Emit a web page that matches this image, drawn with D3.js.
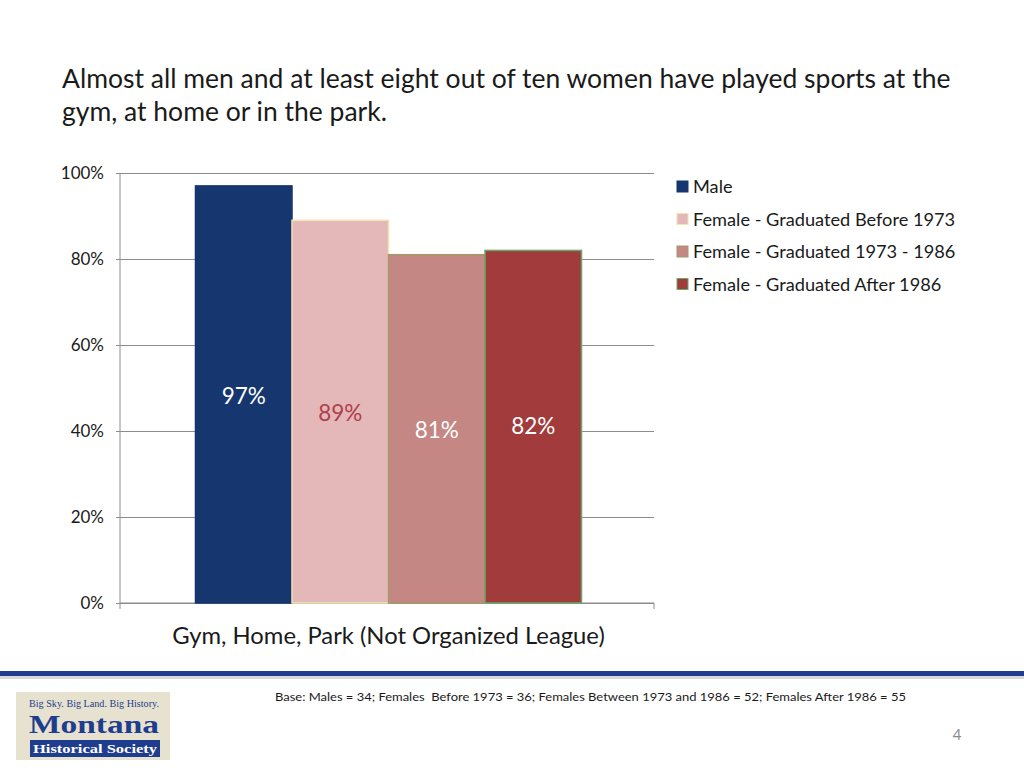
<!DOCTYPE html>
<html><head><meta charset="utf-8">
<script src="https://cdn.jsdelivr.net/npm/d3@7"></script>
<style>body{margin:0;background:#fff;} svg{display:block;font-family:Lato,"Open Sans",sans-serif;} text{white-space:pre;}</style>
</head><body>
<svg id="c" width="1024" height="768"></svg>
<script>
const titleLines = ["Almost all men and at least eight out of ten women have played sports at the", "gym, at home or in the park."];
const category = "Gym, Home, Park (Not Organized League)";
const seriesNames = ["Male", "Female - Graduated Before 1973", "Female - Graduated 1973 - 1986", "Female - Graduated After 1986"];
const seriesValues = [0.97, 0.89, 0.81, 0.82];
const labelTexts = ["97%", "89%", "81%", "82%"];
const labelValues = [0.48, 0.44, 0.40, 0.41];
const fills = ["#15366e", "#e4b8b8", "#c48784", "#a23b3b"];
const strokes = ["#15366e", "#f2e3b0", "#a29a6a", "#6aa86a"];
const labelColors = ["#ffffff", "#b0404e", "#ffffff", "#ffffff"];
const yTicks = [0, 0.2, 0.4, 0.6, 0.8, 1.0];
const footnote = "Base: Males = 34; Females  Before 1973 = 36; Females Between 1973 and 1986 = 52; Females After 1986 = 55";

const svg = d3.select("#c");
const x0 = 120, x1 = 654, yTop = 173, yBot = 603;
const y = d3.scaleLinear().domain([0, 1]).range([yBot, yTop]);
const xc = d3.scaleBand().domain([category]).range([x0 + 1.5, x1 + 1.5]).paddingInner(0).paddingOuter(0.1917);
const xs = d3.scaleBand().domain(seriesNames).range([xc(category), xc(category) + xc.bandwidth()]);

// title
svg.append("g").selectAll("text").data(titleLines).join("text")
  .attr("x", 62).attr("y", (d, i) => 88 + i * 33)
  .attr("font-size", 26.5).attr("fill", "#1a1a1a").text(d => d);

// gridlines
svg.append("g").selectAll("line").data(yTicks).join("line")
  .attr("x1", x0).attr("x2", x1).attr("y1", d => y(d)).attr("y2", d => y(d))
  .attr("stroke", "#8c8c8c").attr("stroke-width", 1).attr("shape-rendering", "crispEdges");

// y axis
const ya = svg.append("g").attr("transform", `translate(${x0},0)`)
  .call(d3.axisLeft(y).tickValues(yTicks).tickFormat(d3.format(".0%")).tickSize(4).tickPadding(12));
ya.select(".domain").attr("stroke", "#8c8c8c").attr("d", `M0,${yTop}V${yBot+6}`);
ya.selectAll(".tick line").attr("stroke", "#8c8c8c");
ya.selectAll(".tick text").attr("font-size", 17).attr("fill", "#1a1a1a").attr("font-family", "Lato,sans-serif");

// x axis
const xa = svg.append("g").attr("transform", `translate(0,${yBot})`)
  .call(d3.axisBottom(xc).tickSize(0).tickFormat(() => ""));
xa.select(".domain").attr("stroke", "#8c8c8c").attr("d", `M${x0},0H${x1}V6`);
svg.append("text").attr("x", xc(category) + xc.bandwidth() / 2).attr("y", 644)
  .attr("text-anchor", "middle").attr("font-size", 23.8).attr("fill", "#1a1a1a").text(category);

// bars
svg.append("g").selectAll("rect").data(seriesNames).join("rect")
  .attr("x", d => xs(d)).attr("width", xs.bandwidth())
  .attr("y", (d, i) => y(seriesValues[i])).attr("height", (d, i) => yBot - y(seriesValues[i]))
  .attr("fill", (d, i) => fills[i]).attr("stroke", (d, i) => strokes[i]).attr("stroke-width", 1.5);

// labels
svg.append("g").selectAll("text").data(seriesNames).join("text")
  .attr("x", d => xs(d) + xs.bandwidth() / 2).attr("y", (d, i) => y(labelValues[i]) + 7)
  .attr("text-anchor", "middle").attr("font-size", 22.5).attr("fill", (d, i) => labelColors[i])
  .text((d, i) => labelTexts[i]);

// legend
const lg = svg.append("g").selectAll("g").data(seriesNames).join("g")
  .attr("transform", (d, i) => `translate(677,${187 + i * 32.5})`);
lg.append("rect").attr("x", 0).attr("y", -6).attr("width", 11).attr("height", 11)
  .attr("fill", (d, i) => fills[i]).attr("stroke", (d, i) => strokes[i]).attr("stroke-width", 1);
lg.append("text").attr("x", 16).attr("y", 6).attr("font-size", 18.2).attr("fill", "#1a1a1a").text(d => d);

// footer line
svg.append("rect").attr("x", 0).attr("y", 675).attr("width", 1024).attr("height", 4).attr("fill", "#d8d8d8");
svg.append("rect").attr("x", 0).attr("y", 671).attr("width", 1024).attr("height", 5).attr("fill", "#1f3d8e");
svg.append("text").attr("x", 275).attr("y", 701).attr("font-size", 12).attr("fill", "#1a1a1a")
  .attr("textLength", 631).attr("lengthAdjust", "spacingAndGlyphs").text(footnote);
svg.append("text").attr("x", 957).attr("y", 740).attr("text-anchor", "middle").attr("font-size", 15).attr("fill", "#8c8c8c").text("4");

// logo
const logo = svg.append("g").attr("transform", "translate(16,692)");
logo.append("rect").attr("width", 154).attr("height", 68).attr("fill", "#e6e2cf");
logo.append("text").attr("x", 78).attr("y", 15).attr("text-anchor", "middle").attr("font-family", "Liberation Serif,serif")
  .attr("font-size", 10).attr("fill", "#1f3d8e").attr("textLength", 130).attr("lengthAdjust", "spacingAndGlyphs").text("Big Sky. Big Land. Big History.");
logo.append("text").attr("x", 78).attr("y", 41).attr("text-anchor", "middle").attr("font-family", "Liberation Serif,serif")
  .attr("font-size", 26).attr("font-weight", "bold").attr("fill", "#1f3d8e").attr("textLength", 130).attr("lengthAdjust", "spacingAndGlyphs").text("Montana");
logo.append("rect").attr("x", 14).attr("y", 48).attr("width", 130).attr("height", 17).attr("fill", "#1f3d8e");
logo.append("text").attr("x", 79).attr("y", 61).attr("text-anchor", "middle").attr("font-family", "Liberation Serif,serif")
  .attr("font-size", 12).attr("font-weight", "bold").attr("fill", "#ffffff").attr("textLength", 124).attr("lengthAdjust", "spacingAndGlyphs").text("Historical Society");
</script>
</body></html>
